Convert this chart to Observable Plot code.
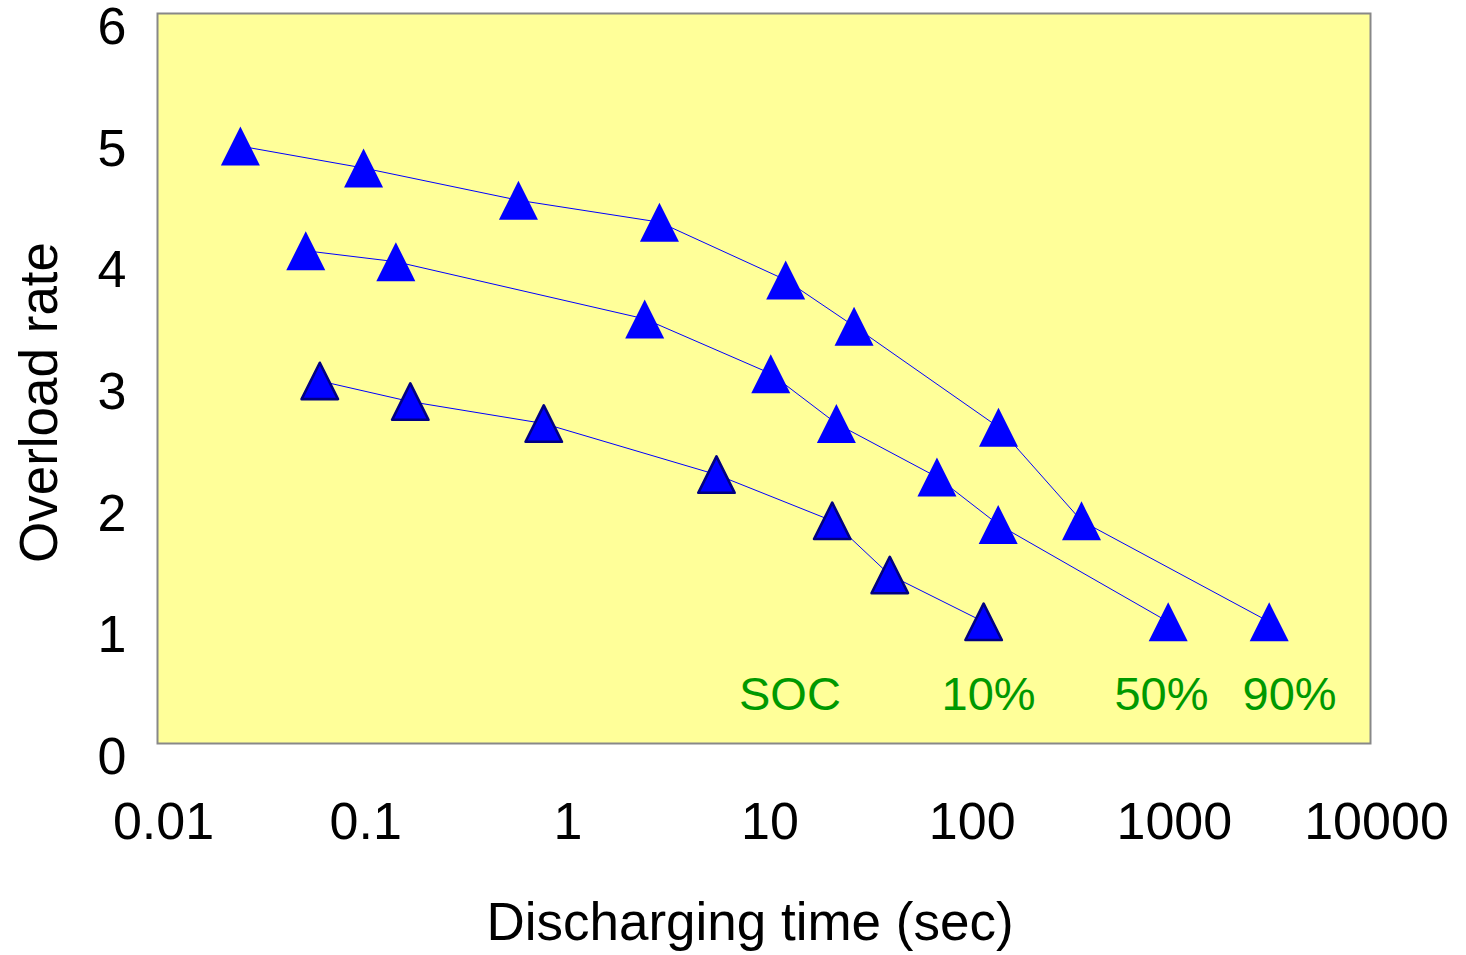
<!DOCTYPE html>
<html>
<head>
<meta charset="utf-8">
<script src="https://cdn.jsdelivr.net/npm/d3@7"></script>
<script src="https://cdn.jsdelivr.net/npm/@observablehq/plot@0.6"></script>
<style>
  html, body { margin: 0; padding: 0; background: #ffffff; }
  #chart svg { display: block; overflow: visible; }
</style>
</head>
<body>
<div id="chart"></div>
<script>
// ---- data ----
const seriesNames = ["10%", "50%", "90%"];

const time10 = [0.0635, 0.178, 0.814, 5.82, 21.75, 41.9, 122];
const rate10 = [2.98, 2.81, 2.63, 2.21, 1.83, 1.385, 1.0];

const time50 = [0.0541, 0.151, 2.57, 10.8, 22.8, 71.7, 144, 998];
const rate50 = [4.05, 3.96, 3.49, 3.04, 2.63, 2.19, 1.80, 1.0];

const time90 = [0.0257, 0.1045, 0.610, 3.04, 12.8, 27.9, 144.5, 372, 3155];
const rate90 = [4.91, 4.73, 4.465, 4.285, 3.81, 3.43, 2.60, 1.83, 1.0];

const xTicks = [0.01, 0.1, 1, 10, 100, 1000, 10000];
const yTicks = [0, 1, 2, 3, 4, 5, 6];

// in-plot annotation labels (anchored in data space)
const labelText = ["SOC", "10%", "50%", "90%"];
const labelTime = [7.52, 75.5, 541, 2327];
const labelRate = [0.40, 0.40, 0.40, 0.40];

const xTitle = "Discharging time (sec)";
const yTitle = "Overload rate";

// ---- build tables ----
function rows(name, ts, rs) { return ts.map((t, i) => ({series: name, time: t, rate: rs[i]})); }
const s10 = rows(seriesNames[0], time10, rate10);
const s50 = rows(seriesNames[1], time50, rate50);
const s90 = rows(seriesNames[2], time90, rate90);
const labels = labelText.map((t, i) => ({text: t, time: labelTime[i], rate: labelRate[i]}));

// isosceles triangle centred on its bounding box (Excel-style marker)
const tri = {
  draw(context, size) {
    const r = Math.sqrt(size / Math.PI);
    context.moveTo(0, -r);
    context.lineTo(r, r);
    context.lineTo(-r, r);
    context.closePath();
  }
};

const font = "'Liberation Sans', Arial, Helvetica, sans-serif";

const chart = Plot.plot({
  width: 1466,
  height: 955,
  marginLeft: 157,
  marginRight: 96,
  marginTop: 13,
  marginBottom: 212,
  style: {fontFamily: font, background: "#ffffff", color: "#000000", overflow: "visible"},
  x: {type: "log", domain: [0.01, 10000], axis: null},
  y: {domain: [0, 6], axis: null},
  marks: [
    Plot.frame({fill: "#FFFF99", stroke: null}),
    Plot.line(s10, {x: "time", y: "rate", stroke: "#0000FF", strokeWidth: 1}),
    Plot.line(s50, {x: "time", y: "rate", stroke: "#0000FF", strokeWidth: 1}),
    Plot.line(s90, {x: "time", y: "rate", stroke: "#0000FF", strokeWidth: 1}),
    Plot.dot(s50, {x: "time", y: "rate", symbol: tri, r: 19.5, fill: "#0000FF", stroke: null}),
    Plot.dot(s90, {x: "time", y: "rate", symbol: tri, r: 19.5, fill: "#0000FF", stroke: null}),
    Plot.dot(s10, {x: "time", y: "rate", symbol: tri, r: 18.2, fill: "#0000FF", stroke: "#000080", strokeWidth: 2.6, strokeLinejoin: "round"}),
    Plot.frame({stroke: "#888888", strokeWidth: 2}),
    Plot.text(labels, {x: "time", y: "rate", text: "text", textAnchor: "start", fill: "#009900", fontSize: 47}),
    Plot.axisX(xTicks, {tickSize: 0, tickPadding: 59, fontSize: 52, dx: 6, tickFormat: d => d.toString(), label: null, fill: "#000000"}),
    Plot.axisY(yTicks, {tickSize: 0, tickPadding: 31, fontSize: 52, dy: 14, tickFormat: d => d.toString(), label: null, fill: "#000000"}),
    Plot.text([xTitle], {frameAnchor: "bottom", textAnchor: "middle", lineAnchor: "middle", text: d => d, fontSize: 53, dx: -14, dy: 180, fill: "#000000"}),
    Plot.text([yTitle], {frameAnchor: "left", textAnchor: "middle", lineAnchor: "middle", text: d => d, fontSize: 53, rotate: -90, dx: -117, dy: 24, fill: "#000000"})
  ]
});
document.getElementById("chart").appendChild(chart);
</script>
</body>
</html>
